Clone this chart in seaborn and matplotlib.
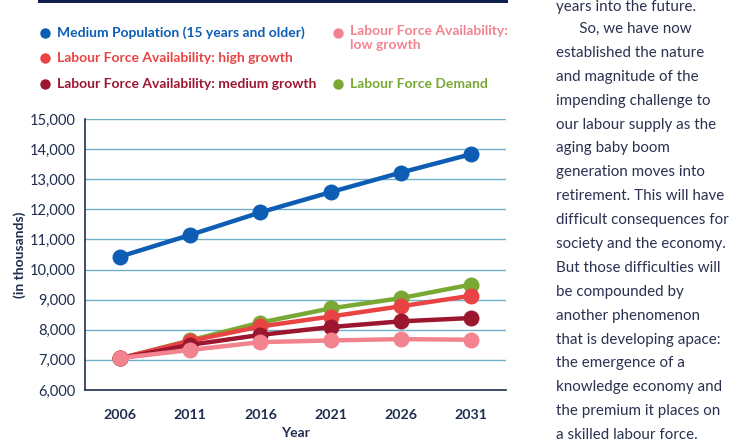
import matplotlib
matplotlib.use('Agg')
import matplotlib.pyplot as plt
import seaborn as sns
import pandas as pd
from matplotlib.lines import Line2D
from matplotlib.patches import Rectangle

# ---- data (in thousands) ----
years = ['2006', '2011', '2016', '2021', '2026', '2031']
population = [10430, 11150, 11900, 12570, 13220, 13830]
demand = [7050, 7650, 8240, 8710, 9050, 9500]
high_growth = [7050, 7630, 8110, 8440, 8780, 9130]
medium_growth = [7050, 7500, 7830, 8090, 8280, 8390]
low_growth = [7060, 7330, 7590, 7645, 7690, 7670]

series_names = ['Medium Population (15 years and older)',
                'Labour Force Demand',
                'Labour Force Availability: high growth',
                'Labour Force Availability: medium growth',
                'Labour Force Availability: low growth']
series_values = [population, demand, high_growth, medium_growth, low_growth]
colors = ['#0c5db3', '#79a934', '#ea4343', '#9d1630', '#f2838f']

body_lines = ['years into the future.',
              '      So, we have now',
              'established the nature',
              'and magnitude of the',
              'impending challenge to',
              'our labour supply as the',
              'aging baby boom',
              'generation moves into',
              'retirement. This will have',
              'difficult consequences for',
              'society and the economy.',
              'But those difficulties will',
              'be compounded by',
              'another phenomenon',
              'that is developing apace:',
              'the emergence of a',
              'knowledge economy and',
              'the premium it places on',
              'a skilled labour force.']

rows = []
for name, vals in zip(series_names, series_values):
    for i, v in enumerate(vals):
        rows.append({'pos': i, 'value': v, 'series': name})
df = pd.DataFrame(rows)

sns.set_style('white')
plt.rcParams['font.family'] = ['Lato', 'DejaVu Sans']

W, H = 749, 441
fig = plt.figure(figsize=(W / 100, H / 100), dpi=100)

def fx(px):
    return px / W

def fy(py):
    return 1 - py / H

navy = '#1f2d4f'
grid_c = '#6fb0c9'

ax = fig.add_axes([fx(85), fy(390), fx(506) - fx(85), fy(119) - fy(390)])
sns.lineplot(data=df, x='pos', y='value', hue='series', hue_order=series_names,
             palette=colors, marker='o', markersize=11.5, markeredgewidth=0,
             linewidth=3.2, ax=ax, legend=False)

ax.set_xlim(-0.5, 5.5)
ax.set_ylim(6000, 15000)
ax.set_yticks(range(6000, 15001, 1000))
ax.set_yticklabels([f'{v:,}' for v in range(6000, 15001, 1000)],
                   fontsize=10.5, color=navy)
ax.set_xticks(range(6))
ax.set_xticklabels(years, fontsize=10.2, fontweight='bold', color=navy)
ax.set_xticks([i - 0.5 for i in range(7)], minor=True)
ax.tick_params(axis='x', which='major', length=0, pad=14)
ax.tick_params(axis='x', which='minor', length=5, width=1, color=navy, direction='out')
ax.tick_params(axis='y', length=4, width=1, color=navy, pad=3)
for y in range(7000, 15001, 1000):
    ax.axhline(y, color=grid_c, linewidth=1, zorder=0)
for s in ['top', 'right']:
    ax.spines[s].set_visible(False)
for s in ['left', 'bottom']:
    ax.spines[s].set_color(navy)
    ax.spines[s].set_linewidth(1.2)
ax.set_xlabel('Year', fontsize=10, fontweight='bold', color=navy, labelpad=4)
ax.set_ylabel('(in thousands)', fontsize=10, fontweight='bold', color=navy, labelpad=2.5)

# top rule
fig.add_artist(Rectangle((fx(38), fy(3)), fx(508) - fx(38), fy(0) - fy(3),
                         transform=fig.transFigure, color='#0f1f4b', lw=0))

# legend (manual layout)
legend_items = [
    (series_names[0], colors[0], 45, 33),
    ('Labour Force Availability: high growth', colors[2], 45, 58),
    ('Labour Force Availability: medium growth', colors[3], 45, 84),
    ('Labour Force Availability:\nlow growth', colors[4], 338, 33),
    ('Labour Force Demand', colors[1], 338, 84),
]
for label, c, mx, my in legend_items:
    fig.add_artist(Line2D([fx(mx)], [fy(my)], marker='o', markersize=7.5,
                          color=c, markeredgewidth=0, transform=fig.transFigure))
    if '\n' in label:
        fig.text(fx(mx + 12), fy(my - 8), label, color=c, fontsize=10,
                 fontweight='bold', ha='left', va='top', linespacing=1.2)
    else:
        fig.text(fx(mx + 12), fy(my), label, color=c, fontsize=10,
                 fontweight='bold', ha='left', va='center')

# body text on the right
for i, line in enumerate(body_lines):
    y = 5 + i * 23.9
    if i == 0:
        fig.text(fx(556), fy(0.5), line, fontsize=10.9, color='#2b3150',
                 ha='left', va='top')
    else:
        fig.text(fx(556), fy(y), line, fontsize=10.9, color='#2b3150',
                 ha='left', va='center')

fig.savefig('out.png', dpi=100)
